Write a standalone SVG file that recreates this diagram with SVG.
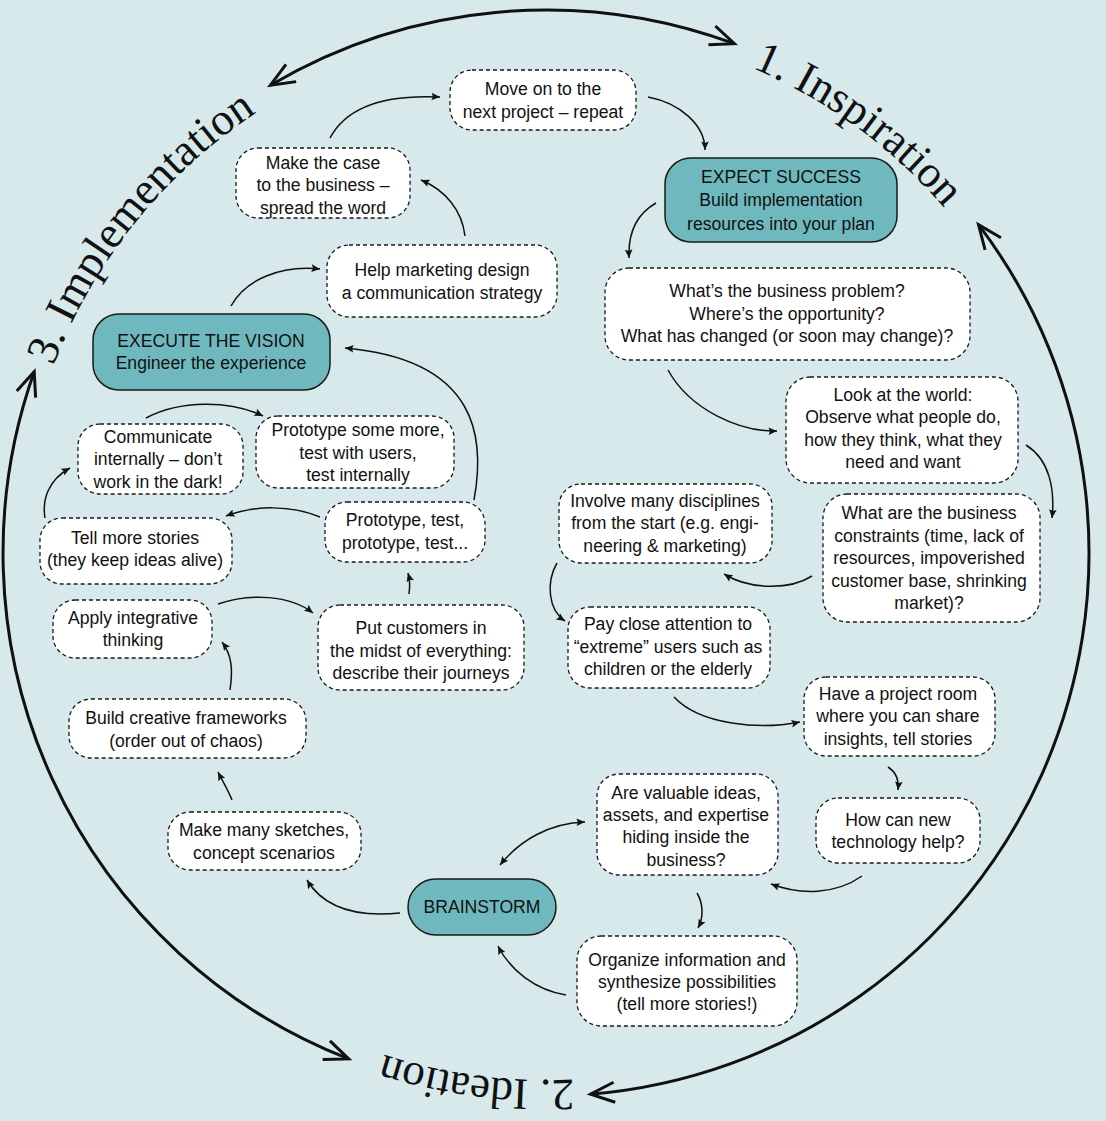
<svg xmlns="http://www.w3.org/2000/svg" width="1106" height="1121" viewBox="0 0 1106 1121">
<style>
.bg{fill:#d7e9eb}
.n rect{fill:#fff;stroke:#1a1a1a;stroke-width:1.3;stroke-dasharray:4 3}
.k rect{fill:#6fb9be;stroke:#1a1a1a;stroke-width:1.5}
text{font-family:"Liberation Sans",Arial,sans-serif;font-size:17.6px;fill:#111;text-anchor:middle}
.c path{fill:none;stroke:#111;stroke-width:1.5}
.big path{fill:none;stroke:#111;stroke-width:3}
.lbl{font-family:"Liberation Serif","DejaVu Serif",serif;font-size:45px;text-anchor:start}
</style>
<defs>
<marker id="a" markerUnits="userSpaceOnUse" viewBox="-10 -6 12 12" refX="0" refY="0" markerWidth="12" markerHeight="12" orient="auto-start-reverse">
<path d="M0,0 L-8.5,-3.8 L-7,0 L-8.5,3.8 z" fill="#111"/>
</marker>
<marker id="b" markerUnits="userSpaceOnUse" viewBox="-30 -15 34 30" refX="0" refY="0" markerWidth="34" markerHeight="30" orient="auto-start-reverse">
<path d="M-24,-10 L0,0 L-24,10" fill="none" stroke="#111" stroke-width="3"/>
</marker>
<path id="t3" d="M53.4,365.9 A527,527 0 0,1 454.5,34"/>
<path id="t1" d="M751.9,67.9 A527,527 0 0,1 1065,461.5"/>
<path id="t2" d="M573.6,1079.3 A527,527 0 0,1 207.3,956.7"/>
</defs>
<rect class="bg" x="0" y="0" width="1106" height="1121"/>

<g id="cycle" class="big">
<path d="M270.4,85.2 A543,543 0 0,1 734.4,43.7" marker-start="url(#b)" marker-end="url(#b)"/>
<path d="M978.5,224.7 A543,543 0 0,1 590.5,1094.2" marker-start="url(#b)" marker-end="url(#b)"/>
<path d="M348.7,1058.9 A543,543 0 0,1 34.2,371.7" marker-start="url(#b)" marker-end="url(#b)"/>
</g>
<g id="phase-labels">
<text class="lbl"><textPath href="#t3">3. Implementation</textPath></text>
<text class="lbl"><textPath href="#t1">1. Inspiration</textPath></text>
<text class="lbl"><textPath href="#t2">2. Ideation</textPath></text>
</g>

<g id="connectors" class="c">
<path d="M330,138 C350,100 400,95 440,97" marker-end="url(#a)"/>
<path d="M648,97 C680,103 705,125 705,150" marker-end="url(#a)"/>
<path d="M656,203 C635,215 628,235 629,258" marker-end="url(#a)"/>
<path d="M668,370 C690,410 740,432 777,431" marker-end="url(#a)"/>
<path d="M1026,445 C1050,460 1055,490 1052,518" marker-end="url(#a)"/>
<path d="M812,576 C790,590 750,590 724,574" marker-end="url(#a)"/>
<path d="M557,563 C546,582 548,610 565,621" marker-end="url(#a)"/>
<path d="M674,697 C700,725 760,730 800,722" marker-end="url(#a)"/>
<path d="M888,767 C896,772 899,780 898,790" marker-end="url(#a)"/>
<path d="M862,876 C835,895 800,895 771,884" marker-end="url(#a)"/>
<path d="M500,865 C520,840 550,823 585,822" marker-start="url(#a)" marker-end="url(#a)"/>
<path d="M697,893 C703,903 704,917 698,928" marker-end="url(#a)"/>
<path d="M566,995 C535,990 510,970 498,946" marker-end="url(#a)"/>
<path d="M400,913 C360,917 325,910 307,880" marker-end="url(#a)"/>
<path d="M232,800 C228,790 222,780 218,772" marker-end="url(#a)"/>
<path d="M230,690 C233,670 232,655 222,642" marker-end="url(#a)"/>
<path d="M218,604 C250,593 290,595 313,613" marker-end="url(#a)"/>
<path d="M409,594 C410,587 410,580 408,573" marker-end="url(#a)"/>
<path d="M320,517 C290,505 255,505 226,516" marker-end="url(#a)"/>
<path d="M45,518 C42,500 48,480 70,468" marker-end="url(#a)"/>
<path d="M146,418 C180,400 230,400 263,416" marker-end="url(#a)"/>
<path d="M474,500 C485,440 480,360 345,348" marker-end="url(#a)"/>
<path d="M231,306 C245,280 280,265 320,269" marker-end="url(#a)"/>
<path d="M465,236 C462,210 445,190 421,180" marker-end="url(#a)"/>
</g>

<g id="move-on" class="n"><rect x="450" y="70" width="186" height="60" rx="22"/>
<text x="543" y="95">Move on to the</text><text x="543" y="118">next project – repeat</text></g>

<g id="make-case" class="n"><rect x="236" y="148" width="174" height="70" rx="22"/>
<text x="323" y="169">Make the case</text><text x="323" y="191">to the business –</text><text x="323" y="214">spread the word</text></g>

<g id="expect-success" class="k"><rect x="665" y="158" width="232" height="84" rx="26"/>
<text x="781" y="183">EXPECT SUCCESS</text><text x="781" y="206">Build implementation</text><text x="781" y="230">resources into your plan</text></g>

<g id="help-marketing" class="n"><rect x="327" y="245" width="230" height="72" rx="22"/>
<text x="442" y="276">Help marketing design</text><text x="442" y="299">a communication strategy</text></g>

<g id="business-problem" class="n"><rect x="605" y="268" width="365" height="92" rx="24"/>
<text x="787" y="297">What’s the business problem?</text><text x="787" y="320">Where’s the opportunity?</text><text x="787" y="342">What has changed (or soon may change)?</text></g>

<g id="execute-vision" class="k"><rect x="93" y="314" width="237" height="76" rx="26"/>
<text x="211" y="347">EXECUTE THE VISION</text><text x="211" y="368.5">Engineer the experience</text></g>

<g id="look-world" class="n"><rect x="786" y="377" width="232" height="106" rx="24"/>
<text x="903" y="401">Look at the world:</text><text x="903" y="423">Observe what people do,</text><text x="903" y="446">how they think, what they</text><text x="903" y="468">need and want</text></g>

<g id="communicate" class="n"><rect x="78" y="424" width="165" height="70" rx="22"/>
<text x="158" y="443">Communicate</text><text x="158" y="465">internally – don’t</text><text x="158" y="488">work in the dark!</text></g>

<g id="prototype-more" class="n"><rect x="256" y="416" width="198" height="72" rx="22"/>
<text x="358" y="436">Prototype some more,</text><text x="358" y="459">test with users,</text><text x="358" y="481">test internally</text></g>

<g id="involve" class="n"><rect x="559" y="484" width="213" height="79" rx="22"/>
<text x="665" y="507">Involve many disciplines</text><text x="665" y="529">from the start (e.g. engi-</text><text x="665" y="552">neering &amp; marketing)</text></g>

<g id="constraints" class="n"><rect x="823" y="494" width="217" height="128" rx="24"/>
<text x="929" y="519">What are the business</text><text x="929" y="542">constraints (time, lack of</text><text x="929" y="564">resources, impoverished</text><text x="929" y="587">customer base, shrinking</text><text x="929" y="609">market)?</text></g>

<g id="prototype-test" class="n"><rect x="325" y="502" width="160" height="60" rx="22"/>
<text x="405" y="526">Prototype, test,</text><text x="405" y="549">prototype, test...</text></g>

<g id="tell-stories" class="n"><rect x="40" y="518" width="192" height="66" rx="22"/>
<text x="135" y="544">Tell more stories</text><text x="135" y="566">(they keep ideas alive)</text></g>

<g id="integrative" class="n"><rect x="53" y="600" width="159" height="58" rx="22"/>
<text x="133" y="624">Apply integrative</text><text x="133" y="646">thinking</text></g>

<g id="customers" class="n"><rect x="318" y="605" width="206" height="85" rx="22"/>
<text x="421" y="634">Put customers in</text><text x="421" y="657">the midst of everything:</text><text x="421" y="679">describe their journeys</text></g>

<g id="extreme-users" class="n"><rect x="568" y="607" width="202" height="81" rx="22"/>
<text x="668" y="630">Pay close attention to</text><text x="668" y="653">“extreme” users such as</text><text x="668" y="675">children or the elderly</text></g>

<g id="project-room" class="n"><rect x="804" y="677" width="191" height="79" rx="22"/>
<text x="898" y="700">Have a project room</text><text x="898" y="722">where you can share</text><text x="898" y="745">insights, tell stories</text></g>

<g id="frameworks" class="n"><rect x="69" y="699" width="237" height="59" rx="22"/>
<text x="186" y="724">Build creative frameworks</text><text x="186" y="747">(order out of chaos)</text></g>

<g id="valuable-ideas" class="n"><rect x="597" y="774" width="181" height="101" rx="22"/>
<text x="686" y="799">Are valuable ideas,</text><text x="686" y="821">assets, and expertise</text><text x="686" y="843">hiding inside the</text><text x="686" y="866">business?</text></g>

<g id="technology" class="n"><rect x="816" y="798" width="164" height="65" rx="22"/>
<text x="898" y="826">How can new</text><text x="898" y="848">technology help?</text></g>

<g id="sketches" class="n"><rect x="168" y="812" width="193" height="58" rx="22"/>
<text x="264" y="836">Make many sketches,</text><text x="264" y="859">concept scenarios</text></g>

<g id="brainstorm" class="k"><rect x="408" y="879" width="148" height="56" rx="28"/>
<text x="482" y="913">BRAINSTORM</text></g>

<g id="organize" class="n"><rect x="577" y="936" width="220" height="90" rx="24"/>
<text x="687" y="966">Organize information and</text><text x="687" y="988">synthesize possibilities</text><text x="687" y="1010">(tell more stories!)</text></g>
</svg>
